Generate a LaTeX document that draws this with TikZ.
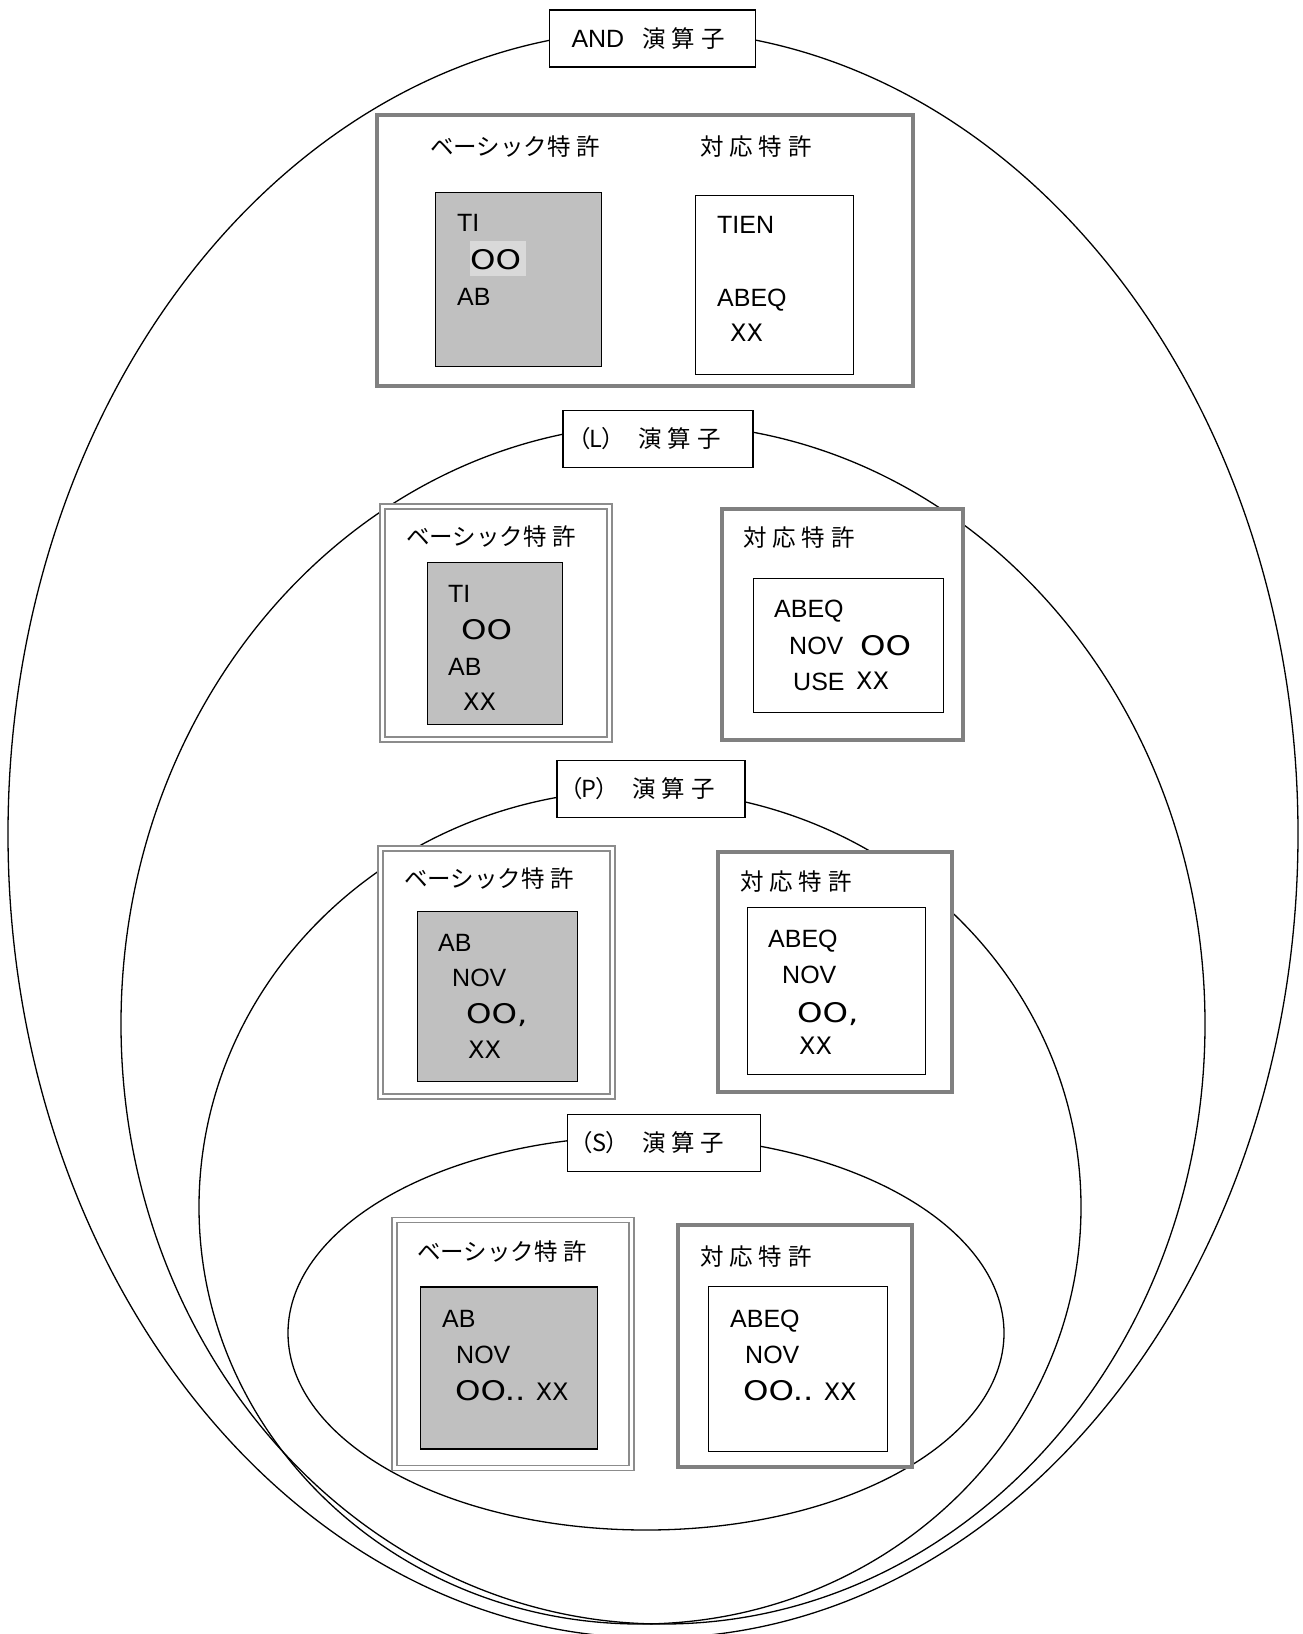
\documentclass[tikz,border=0pt]{standalone}
\usepackage{fontspec}
\newfontfamily\jpfam[LetterSpace=25]{Noto Sans CJK JP}
\newfontfamily\jpkfam{Noto Sans CJK JP}
\newfontfamily\jppfam[RawFeature=+palt]{Noto Sans CJK JP}
\newfontfamily\latfam{Liberation Sans}
\newfontfamily\xfam{DejaVu Sans}
\newfontfamily\ofam[FakeStretch=1.2]{DejaVu Sans}
\newcommand\jpsz{\jpfam\fontsize{23.5pt}{28pt}\selectfont}
\newcommand\latsz{\latfam\fontsize{25pt}{30pt}\selectfont}
\newcommand\xsz{\xfam\fontsize{24pt}{30pt}\selectfont}
\newcommand\osz{\ofam\fontsize{27pt}{32pt}\selectfont}
\newcommand\basicttl{{\jpkfam ベーシック}特許}
\newcommand\opttl[1]{{\jppfam （#1）}\hspace{24pt}演算子}
\definecolor{boxgray}{HTML}{808080}
\definecolor{fillgray}{HTML}{C0C0C0}
\definecolor{hlgray}{HTML}{D9D9D9}
\definecolor{dblgray}{HTML}{8C8C8C}
\begin{document}
\begin{tikzpicture}[x=1pt,y=-1pt,
  ell/.style={draw=black,line width=1.3pt},
  opbox/.style={draw=black,fill=white,line width=1.3pt,minimum height=57pt,inner ysep=0pt,align=left},
  thickbox/.style={draw=boxgray,fill=white,line width=4pt,inner sep=0pt},
  dblbox/.style={draw=dblgray,double=white,double distance=3.3pt,line width=1.6pt,fill=white,inner sep=0pt},
  graybox/.style={draw=black,fill=fillgray,line width=1.5pt,inner sep=0pt},
  wbox/.style={draw=black,fill=white,line width=1.5pt,inner sep=0pt},
  ttl/.style={anchor=west,inner sep=0pt,font=\jpsz},
  lt/.style={anchor=west,inner sep=0pt,text height=18pt,text depth=0pt,font=\latsz},
  xt/.style={anchor=west,inner sep=0pt,text height=17.5pt,text depth=0pt,font=\xsz},
  ot/.style={anchor=west,inner sep=0pt,text height=20pt,text depth=0pt,font=\osz},
]
\useasboundingbox (0,0) rectangle (1303,1634);
\fill[white] (0,0) rectangle (1303,1634);

% ellipses
\draw[ell] (653,834) ellipse [x radius=645pt, y radius=804pt];
\draw[ell] (663,1024) ellipse [x radius=542pt, y radius=600pt];
\draw[ell] (640,1207) ellipse [x radius=441pt, y radius=417pt];
\draw[ell] (646,1333) ellipse [x radius=358pt, y radius=197pt];

% operator label boxes
\node[opbox,inner xsep=22pt,text width=162pt] (andop) at (652.5,38.5) {{\latsz AND}\hspace{18pt}{\jpsz 演算子}};
\node[opbox,inner xsep=15pt,text width=160pt,font=\jpsz] (lop) at (658,439) {\opttl{L}};
\node[opbox,inner xsep=13pt,text width=162pt,font=\jpsz] (pop) at (651,789) {\opttl{P}};
\node[opbox,inner xsep=13pt,text width=167pt,font=\jpsz] (sop) at (664,1143) {\opttl{S}};

% AND section
\node[thickbox,minimum width=536pt,minimum height=271pt] (andouter) at (645,250.5) {};
\node[graybox,minimum width=166pt,minimum height=174pt] (andbasic) at (518.5,279.5) {};
\node[wbox,minimum width=158pt,minimum height=179pt] (andcorr) at (774.5,285) {};
\node[fill=hlgray,inner sep=0pt,minimum width=56pt,minimum height=35pt] (andhl) at (498,258.5) {};
\node[ttl] (a_bt) at (430,147) {\basicttl};
\node[ttl] (a_ct) at (700,147) {対応特許};
\node[lt] (a_ti) at (457,222) {TI};
\node[ot] (a_oo) at (470,259) {OO};
\node[lt] (a_ab) at (457,296) {AB};
\node[lt] (a_tien) at (717,224) {TIEN};
\node[lt] (a_abeq) at (717,297) {ABEQ};
\node[xt] (a_xx) at (730,333) {XX};

% L section
\node[dblbox,minimum width=227pt,minimum height=233pt] (lbasic) at (496,623) {};
\node[graybox,minimum width=135pt,minimum height=162pt] (lbasicin) at (495,643.5) {};
\node[thickbox,minimum width=241pt,minimum height=231pt] (lcorr) at (842.5,624.5) {};
\node[wbox,minimum width=190pt,minimum height=134pt] (lcorrin) at (848.5,645.5) {};
\node[ttl] (l_bt) at (406,537) {\basicttl};
\node[ttl] (l_ct) at (743,538) {対応特許};
\node[lt] (l_ti) at (448,593) {TI};
\node[ot] (l_oo) at (461,629) {OO};
\node[lt] (l_ab) at (448,666) {AB};
\node[xt] (l_xx) at (463,702) {XX};
\node[lt] (l_abeq) at (774,608) {ABEQ};
\node[lt] (l_nov) at (789,645) {NOV};
\node[ot] (l_oo2) at (860,645) {OO};
\node[lt] (l_use) at (793,681) {USE};
\node[xt] (l_xx2) at (856,681) {XX};

% P section
\node[dblbox,minimum width=232pt,minimum height=248pt] (pbasic) at (496.5,972.5) {};
\node[graybox,minimum width=160pt,minimum height=170pt] (pbasicin) at (497.5,996.5) {};
\node[thickbox,minimum width=234pt,minimum height=240pt] (pcorr) at (835,972) {};
\node[wbox,minimum width=178pt,minimum height=167pt] (pcorrin) at (836.5,991) {};
\node[ttl] (p_bt) at (404,879) {\basicttl};
\node[ttl] (p_ct) at (740,882) {対応特許};
\node[lt] (p_ab) at (438,942) {AB};
\node[lt] (p_nov) at (452,977) {NOV};
\node[ot] (p_oo) at (466,1013) {OO,};
\node[xt] (p_xx) at (468,1050) {XX};
\node[lt] (p_abeq) at (768,938) {ABEQ};
\node[lt] (p_nov2) at (782,974) {NOV};
\node[ot] (p_oo2) at (797,1012) {OO,};
\node[xt] (p_xx2) at (799,1046) {XX};

% S section
\node[dblbox,minimum width=237pt,minimum height=248pt] (sbasic) at (513,1344) {};
\node[graybox,minimum width=177pt,minimum height=162pt] (sbasicin) at (509,1368) {};
\node[thickbox,minimum width=234pt,minimum height=242pt] (scorr) at (794.6,1346) {};
\node[wbox,minimum width=179pt,minimum height=165pt] (scorrin) at (798,1369) {};
\node[ttl] (s_bt) at (417,1252) {\basicttl};
\node[ttl] (s_ct) at (700,1257) {対応特許};
\node[lt] (s_ab) at (442,1318) {AB};
\node[lt] (s_nov) at (456,1354) {NOV};
\node[ot] (s_oo) at (455,1390) {OO..\ {\xsz XX}};
\node[lt] (s_abeq) at (730,1318) {ABEQ};
\node[lt] (s_nov2) at (745,1354) {NOV};
\node[ot] (s_oo2) at (743,1390) {OO..\ {\xsz XX}};
\end{tikzpicture}
\end{document}
